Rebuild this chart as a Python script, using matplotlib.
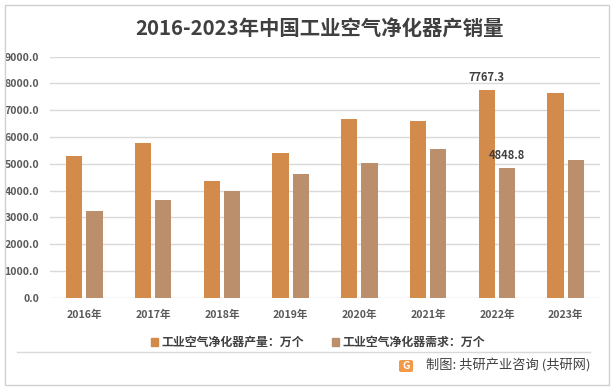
import matplotlib
matplotlib.use("Agg")
import matplotlib.pyplot as plt
import numpy as np
from matplotlib.patches import Rectangle, FancyBboxPatch
from matplotlib.lines import Line2D

plt.rcParams['font.family'] = ['Noto Sans CJK SC', 'DejaVu Sans']

categories = ["2016年", "2017年", "2018年", "2019年", "2020年", "2021年", "2022年", "2023年"]
production = [5290, 5780, 4360, 5400, 6660, 6590, 7767.3, 7640]
demand = [3240, 3650, 3990, 4620, 5020, 5540, 4848.8, 5130]
series_names = ["工业空气净化器产量：万个", "工业空气净化器需求：万个"]
labeled_points = {(0, 6): "7767.3", (1, 6): "4848.8"}
yticks = [0, 1000, 2000, 3000, 4000, 5000, 6000, 7000, 8000, 9000]

c_orange = "#D38B4C"
c_brown = "#BB8E6C"
text_dark = "#595959"

W, H = 614, 388
fig = plt.figure(figsize=(W / 100, H / 100), dpi=100)
fig.patch.set_facecolor("white")

ax = fig.add_axes([50 / W, (H - 297.7) / H, 550 / W, (297.7 - 56.7) / H])
x = np.arange(len(categories))
bw = 0.235
gap = 0.058
ax.bar(x - (bw + gap) / 2, production, width=bw, color=c_orange, zorder=3)
ax.bar(x + (bw + gap) / 2, demand, width=bw, color=c_brown, zorder=3)

for (s, i), lab in labeled_points.items():
    vals = production if s == 0 else demand
    off = -(bw + gap) / 2 if s == 0 else (bw + gap) / 2
    ax.annotate(lab, (x[i] + off, vals[i]), xytext=(0, 4), textcoords="offset points",
                ha="center", va="bottom", fontsize=8, fontweight="bold", color="#404040")

ax.set_xlim(-0.5, len(categories) - 0.5)
ax.set_ylim(0, 9000)
ax.set_yticks(yticks)
ax.set_yticklabels([f"{v:.1f}" for v in yticks])
ax.set_xticks(x)
ax.set_xticklabels(categories)
ax.tick_params(axis="both", length=0, labelsize=7.6, labelcolor=text_dark)
ax.tick_params(axis="y", pad=8)
ax.tick_params(axis="x", pad=9)
for lbl in ax.get_xticklabels() + ax.get_yticklabels():
    lbl.set_fontweight("bold")
ax.grid(axis="y", color="#D9D9D9", linewidth=1, zorder=0)
for sp in ax.spines.values():
    sp.set_visible(False)
ax.set_facecolor("none")

# title
fig.text(320 / W, 1 - 29.5 / H, "2016-2023年中国工业空气净化器产销量", ha="center", va="center",
         fontsize=14.7, fontweight="bold", color="#404040")

# legend
handles = [Rectangle((0, 0), 1, 1, color=c_orange), Rectangle((0, 0), 1, 1, color=c_brown)]
leg = fig.legend(handles, series_names, loc="center", bbox_to_anchor=(318 / W, 1 - 342.5 / H),
                 ncol=2, frameon=False, fontsize=8.6, handlelength=0.6, handleheight=0.6,
                 handletextpad=0.3, columnspacing=2.3, labelcolor="#404040")
for t in leg.get_texts():
    t.set_fontweight("bold")

# separator line
fig.add_artist(Line2D([17 / W, 590 / W], [1 - 352 / H, 1 - 352 / H], color="#D9D9D9", linewidth=1))

# outer border
fig.add_artist(Rectangle((4.5 / W, 1 - 385 / H), (608.5 - 4.5) / W, (385 - 4.5) / H,
                         fill=False, edgecolor="#D0D0D0", linewidth=1, transform=fig.transFigure))

# footer logo and text
fig.add_artist(FancyBboxPatch((399 / W, 1 - 372 / H), 14 / W, 12 / H,
                              boxstyle="round,pad=0,rounding_size=0.004",
                              facecolor="#F2994A", edgecolor="none", transform=fig.transFigure))
fig.text(406 / W, 1 - 366 / H, "G", ha="center", va="center", fontsize=7.5,
         fontweight="bold", color="white")
fig.text(590 / W, 1 - 366 / H, "制图: 共研产业咨询 (共研网)", ha="right", va="center",
         fontsize=9.5, color="#404040")

fig.savefig("out.png", dpi=100)
